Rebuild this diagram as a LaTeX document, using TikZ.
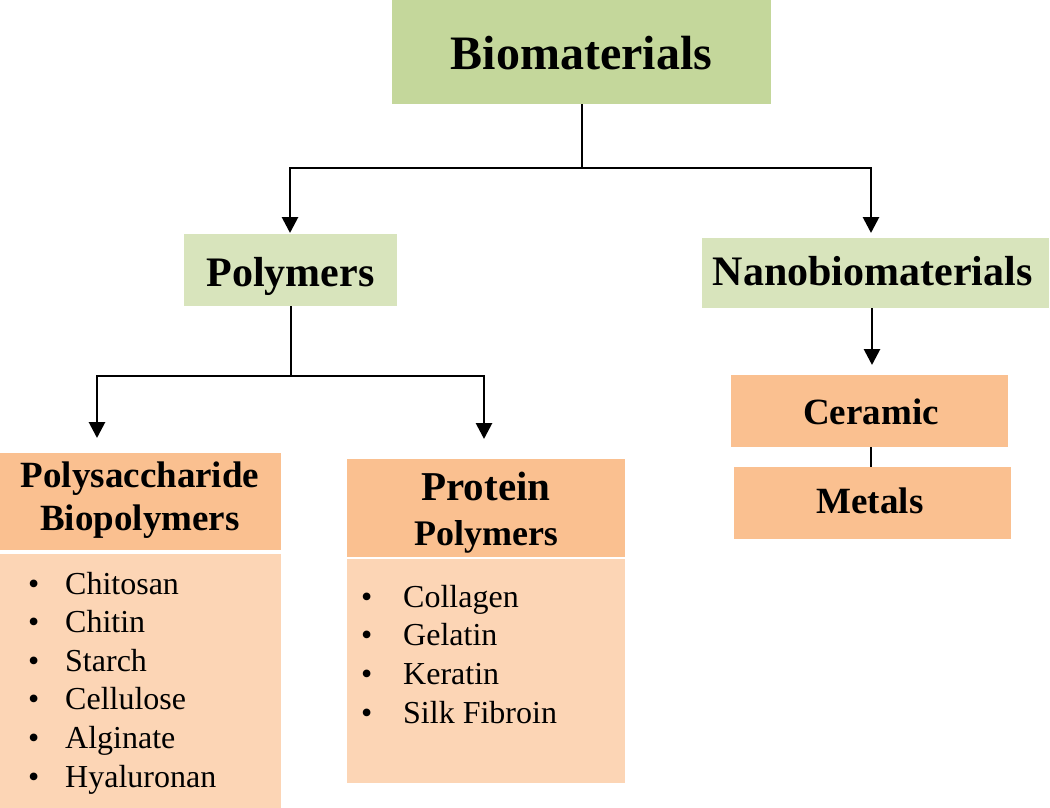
\documentclass[tikz,border=0pt]{standalone}
\usepackage{fontspec}
\setmainfont{Liberation Serif}
\usetikzlibrary{arrows.meta,calc}
\definecolor{gA}{HTML}{C4D79B}
\definecolor{gB}{HTML}{D8E4BC}
\definecolor{oA}{HTML}{FAC090}
\definecolor{oB}{HTML}{FCD5B5}
\begin{document}
\begin{tikzpicture}[x=1pt,y=-1pt,
 box/.style={rectangle, inner sep=0pt, outer sep=0pt, draw=none},
 lbl/.style={anchor=base, inner sep=0pt},
 itm/.style={anchor=base west, inner sep=0pt, font=\fontsize{32}{36}\selectfont},
 conn/.style={line width=2.8pt},
 arr/.style={conn, -{Triangle[width=16pt,length=16pt]}}]
\useasboundingbox (0,0) rectangle (1050,808);
% boxes
\node[box, fill=gA, minimum width=379pt, minimum height=104pt] (bio) at (581.5,52) {};
\node[box, fill=gB, minimum width=213pt, minimum height=72pt] (poly) at (290.5,270) {};
\node[box, fill=gB, minimum width=347pt, minimum height=70pt] (nano) at (875.5,273) {};
\node[box, fill=oA, minimum width=281pt, minimum height=97pt] (psh) at (140.5,501.5) {};
\node[box, fill=oB, minimum width=281pt, minimum height=254pt] (psb) at (140.5,681) {};
\node[box, fill=oA, minimum width=278pt, minimum height=98pt] (prh) at (486,508) {};
\node[box, fill=oB, minimum width=278pt, minimum height=224pt] (prb) at (486,671) {};
\node[box, fill=oA, minimum width=277pt, minimum height=72pt] (cer) at (869.5,411) {};
\node[box, fill=oA, minimum width=277pt, minimum height=72pt] (met) at (872.5,503) {};
% labels
\node[lbl, font=\bfseries\fontsize{48}{52}\selectfont] (tbio) at (581.5,70) {Biomaterials};
\node[lbl, font=\bfseries\fontsize{42}{46}\selectfont] (tpoly) at (290.5,286) {Polymers};
\node[lbl, font=\bfseries\fontsize{42}{46}\selectfont] (tnano) at (872.5,285) {Nanobiomaterials};
\node[lbl, font=\bfseries\fontsize{37}{40}\selectfont] (tps1) at (140,487) {Polysaccharide};
\node[lbl, font=\bfseries\fontsize{37}{40}\selectfont] (tps2) at (140,530) {Biopolymers};
\node[lbl, font=\bfseries\fontsize{41}{44}\selectfont] (tpr1) at (486,500) {Protein};
\node[lbl, font=\bfseries\fontsize{36}{40}\selectfont] (tpr2) at (486,545) {Polymers};
\node[lbl, font=\bfseries\fontsize{37}{40}\selectfont] (tcer) at (871,424) {Ceramic};
\node[lbl, font=\bfseries\fontsize{37}{40}\selectfont] (tmet) at (870,513) {Metals};
% items
\foreach \t [count=\i] in {Chitosan,Chitin,Starch,Cellulose,Alginate,Hyaluronan}{
  \node[itm] (psd\i) at (28,{594+38.6*(\i-1)}) {•};
  \node[itm] (psi\i) at (65,{594+38.6*(\i-1)}) {\t};
}
\foreach \t [count=\i] in {Collagen,Gelatin,Keratin,Silk Fibroin}{
  \node[itm] (prd\i) at (361,{607+38.7*(\i-1)}) {•};
  \node[itm] (pri\i) at (403,{607+38.7*(\i-1)}) {\t};
}
% connectors
\coordinate (j1) at (582,168);
\coordinate (j2) at (291,376);
\coordinate (a1) at (290,233);
\coordinate (a2) at (871,233);
\coordinate (a3) at (97,438);
\coordinate (a4) at (484,439);
\coordinate (a5) at (872,365);
\draw[conn] (bio.south -| j1) -- (j1);
\draw[arr] (j1) -| (a1);
\draw[arr] (j1) -| (a2);
\draw[conn] (poly.south -| j2) -- (j2);
\draw[arr] (j2) -| (a3);
\draw[arr] (j2) -| (a4);
\draw[arr] (nano.south -| a5) -- (a5);
\draw[conn] (cer.south -| 871,0) -- (met.north -| 871,0);
\end{tikzpicture}
\end{document}
